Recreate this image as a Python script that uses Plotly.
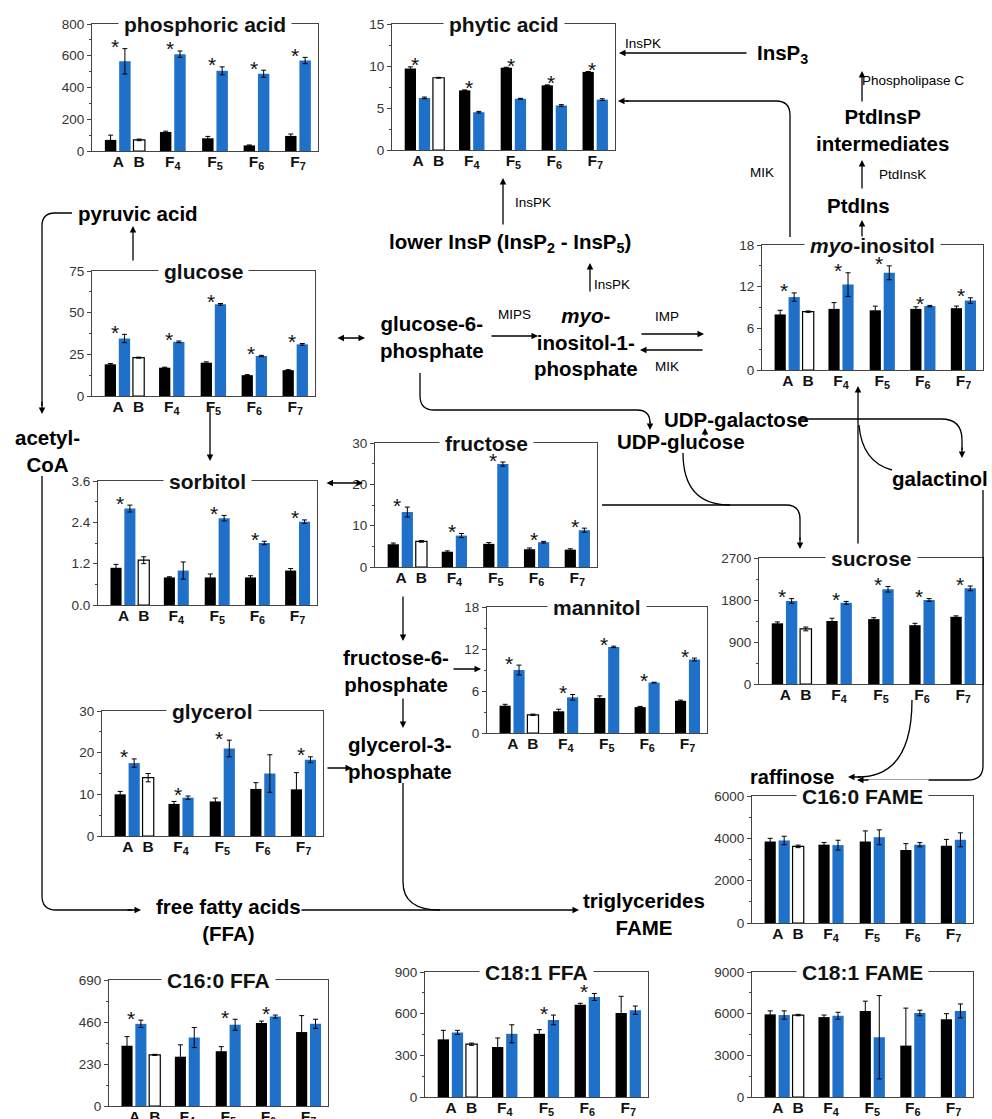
import plotly.graph_objects as go

# ---------------- data ----------------
categories = ['A', 'B', 'F<sub>4</sub>', 'F<sub>5</sub>', 'F<sub>6</sub>', 'F<sub>7</sub>']

phos_black = [70, 120, 80, 35, 95]
phos_black_err = [30, 5, 12, 3, 12]
phos_blue = [565, 610, 505, 487, 570]
phos_blue_err = [80, 20, 25, 22, 20]
phos_white = [70]
phos_white_err = [5]
phos_stars = [0, 1, 2, 3, 4]

phyt_black = [9.7, 7.1, 9.8, 7.7, 9.3]
phyt_black_err = [0.2, 0.05, 0.05, 0.05, 0.05]
phyt_blue = [6.2, 4.5, 6.1, 5.3, 6.0]
phyt_blue_err = [0.1, 0.1, 0.05, 0.1, 0.1]
phyt_white = [8.6]
phyt_white_err = [0.05]
phyt_stars = [0, 1, 2, 3, 4]

gluc_black = [19, 17, 20, 12.5, 15.5]
gluc_black_err = [0.5, 0.3, 0.5, 0.3, 0.3]
gluc_blue = [34.5, 32.5, 55, 24, 31]
gluc_blue_err = [2.5, 0.5, 0.5, 0.4, 0.5]
gluc_white = [23]
gluc_white_err = [0.3]
gluc_stars = [0, 1, 2, 3, 4]

myo_black = [8.0, 8.8, 8.6, 8.8, 8.9]
myo_black_err = [0.6, 0.9, 0.6, 0.3, 0.3]
myo_blue = [10.5, 12.3, 14.0, 9.2, 10.0]
myo_blue_err = [0.6, 1.7, 1.0, 0.1, 0.4]
myo_white = [8.4]
myo_white_err = [0.1]
myo_stars = [0, 1, 2, 3, 4]

sorb_black = [1.08, 0.8, 0.8, 0.8, 1.0]
sorb_black_err = [0.1, 0.02, 0.1, 0.05, 0.06]
sorb_blue = [2.8, 1.0, 2.52, 1.8, 2.42]
sorb_blue_err = [0.1, 0.25, 0.08, 0.05, 0.05]
sorb_white = [1.3]
sorb_white_err = [0.1]
sorb_stars = [0, 2, 3, 4]

fruc_black = [5.5, 3.7, 5.6, 4.3, 4.2]
fruc_black_err = [0.3, 0.2, 0.3, 0.3, 0.2]
fruc_blue = [13.3, 7.6, 24.9, 6.0, 8.9]
fruc_blue_err = [1.2, 0.5, 0.5, 0.2, 0.5]
fruc_white = [6.2]
fruc_white_err = [0.2]
fruc_stars = [0, 1, 2, 3, 4]

mann_black = [3.9, 3.1, 5.0, 3.7, 4.6]
mann_black_err = [0.2, 0.3, 0.3, 0.1, 0.1]
mann_blue = [9.0, 5.1, 12.3, 7.2, 10.5]
mann_blue_err = [0.7, 0.4, 0.1, 0.05, 0.2]
mann_white = [2.6]
mann_white_err = [0.1]
mann_stars = [0, 1, 2, 3, 4]

sucr_black = [1300, 1350, 1390, 1260, 1440]
sucr_black_err = [30, 60, 30, 40, 20]
sucr_blue = [1780, 1740, 2030, 1800, 2050]
sucr_blue_err = [50, 30, 60, 30, 50]
sucr_white = [1180]
sucr_white_err = [40]
sucr_stars = [0, 1, 2, 3, 4]

glyc_black = [10, 7.7, 8.3, 11.3, 11.2]
glyc_black_err = [0.7, 0.6, 0.8, 1.5, 4.0]
glyc_blue = [17.5, 9.2, 21, 15, 18.3]
glyc_blue_err = [1.0, 0.4, 2.0, 4.5, 0.7]
glyc_white = [14]
glyc_white_err = [1.0]
glyc_stars = [0, 1, 2, 4]

c160fame_black = [3850, 3700, 3850, 3450, 3650]
c160fame_black_err = [150, 100, 500, 300, 300]
c160fame_blue = [3900, 3680, 4050, 3700, 3930]
c160fame_blue_err = [200, 230, 350, 100, 330]
c160fame_white = [3620]
c160fame_white_err = [60]
c160fame_stars = []

c160ffa_black = [330, 270, 300, 455, 405]
c160ffa_black_err = [50, 65, 25, 10, 90]
c160ffa_blue = [450, 375, 445, 490, 450]
c160ffa_blue_err = [20, 55, 30, 8, 25]
c160ffa_white = [280]
c160ffa_white_err = [3]
c160ffa_stars = [0, 2, 3]

c181ffa_black = [415, 360, 455, 665, 605]
c181ffa_black_err = [65, 65, 30, 10, 120]
c181ffa_blue = [465, 455, 555, 720, 625]
c181ffa_blue_err = [15, 65, 35, 25, 30]
c181ffa_white = [380]
c181ffa_white_err = [8]
c181ffa_stars = [2, 3]

c181fame_black = [5950, 5750, 6200, 3700, 5600]
c181fame_black_err = [250, 150, 700, 2700, 400]
c181fame_blue = [5900, 5850, 4300, 6050, 6200]
c181fame_blue_err = [300, 250, 3000, 200, 500]
c181fame_white = [5900]
c181fame_white_err = [50]
c181fame_stars = []

# ---------------- geometry / style ----------------
W, H = 992, 1119
FONT = 'Liberation Sans, Arial, sans-serif'
BLUE = '#1e70c8'
AXC = '#444444'

black_x = [0, 3.85, 6.8, 9.7, 12.6]
blue_x = [v + 1 for v in black_x]
white_x = [2]
tick_x = [0.55, 2, 4.35, 7.3, 10.2, 13.1]
XR = [-1.3, 14.5]


def fx(x):
    return x / W


def fy(y):
    return 1 - y / H


charts = [
    dict(title='phosphoric acid', box=(92, 24, 318, 151), ymax=800, dtick=200, fmt='',
         d=(phos_black, phos_black_err, phos_blue, phos_blue_err, phos_white, phos_white_err, phos_stars)),
    dict(title='phytic acid', box=(392, 24, 615, 150), ymax=15, dtick=5, fmt='',
         d=(phyt_black, phyt_black_err, phyt_blue, phyt_blue_err, phyt_white, phyt_white_err, phyt_stars)),
    dict(title='glucose', box=(92, 271, 315, 396), ymax=75, dtick=25, fmt='',
         d=(gluc_black, gluc_black_err, gluc_blue, gluc_blue_err, gluc_white, gluc_white_err, gluc_stars)),
    dict(title='<i>myo</i>-inositol', box=(762, 245, 983, 370), ymax=18, dtick=6, fmt='',
         d=(myo_black, myo_black_err, myo_blue, myo_blue_err, myo_white, myo_white_err, myo_stars)),
    dict(title='sorbitol', box=(98, 481, 317, 605), ymax=3.6, dtick=1.2, fmt='.1f',
         d=(sorb_black, sorb_black_err, sorb_blue, sorb_blue_err, sorb_white, sorb_white_err, sorb_stars)),
    dict(title='fructose', box=(375, 443, 597, 567), ymax=30, dtick=10, fmt='',
         d=(fruc_black, fruc_black_err, fruc_blue, fruc_blue_err, fruc_white, fruc_white_err, fruc_stars)),
    dict(title='mannitol', box=(487, 607, 707, 733), ymax=18, dtick=6, fmt='',
         d=(mann_black, mann_black_err, mann_blue, mann_blue_err, mann_white, mann_white_err, mann_stars)),
    dict(title='sucrose', box=(759, 558, 983, 684), ymax=2700, dtick=900, fmt='',
         d=(sucr_black, sucr_black_err, sucr_blue, sucr_blue_err, sucr_white, sucr_white_err, sucr_stars)),
    dict(title='glycerol', box=(102, 711, 323, 836), ymax=30, dtick=10, fmt='',
         d=(glyc_black, glyc_black_err, glyc_blue, glyc_blue_err, glyc_white, glyc_white_err, glyc_stars)),
    dict(title='C16:0 FAME', box=(752, 796, 973, 923), ymax=6000, dtick=2000, fmt='',
         d=(c160fame_black, c160fame_black_err, c160fame_blue, c160fame_blue_err, c160fame_white, c160fame_white_err, c160fame_stars)),
    dict(title='C16:0 FFA', box=(109, 980, 328, 1106), ymax=690, dtick=230, fmt='',
         d=(c160ffa_black, c160ffa_black_err, c160ffa_blue, c160ffa_blue_err, c160ffa_white, c160ffa_white_err, c160ffa_stars)),
    dict(title='C18:1 FFA', box=(425, 972, 648, 1097), ymax=900, dtick=300, fmt='',
         d=(c181ffa_black, c181ffa_black_err, c181ffa_blue, c181ffa_blue_err, c181ffa_white, c181ffa_white_err, c181ffa_stars)),
    dict(title='C18:1 FAME', box=(752, 972, 973, 1097), ymax=9000, dtick=3000, fmt='',
         d=(c181fame_black, c181fame_black_err, c181fame_blue, c181fame_blue_err, c181fame_white, c181fame_white_err, c181fame_stars)),
]

fig = go.Figure()
annotations = []
shapes = []
layout = {}


def err(arr):
    return dict(type='data', array=arr, color='black', thickness=1, width=2.5, visible=True)


for i, c in enumerate(charts, start=1):
    xa = 'x' if i == 1 else f'x{i}'
    ya = 'y' if i == 1 else f'y{i}'
    bk, bke, bl, ble, wh, whe, stars = c['d']
    fig.add_trace(go.Bar(x=black_x, y=bk, error_y=err(bke), width=0.8, marker=dict(color='black', line=dict(width=0)),
                         xaxis=xa, yaxis=ya, showlegend=False))
    fig.add_trace(go.Bar(x=blue_x, y=bl, error_y=err(ble), width=0.8, marker=dict(color=BLUE, line=dict(width=0)),
                         xaxis=xa, yaxis=ya, showlegend=False))
    fig.add_trace(go.Bar(x=white_x, y=wh, error_y=err(whe), width=0.8,
                         marker=dict(color='white', line=dict(color='black', width=1.2)),
                         xaxis=xa, yaxis=ya, showlegend=False))
    x0, y0, x1, y1 = c['box']
    key = '' if i == 1 else str(i)
    layout['xaxis' + key] = dict(domain=[fx(x0), fx(x1)], anchor=ya, range=XR, showline=True, mirror=True,
                                 linecolor=AXC, linewidth=1, ticks='', showgrid=False, zeroline=False,
                                 automargin=False, ticklabelstandoff=-4,
                                 tickvals=tick_x, ticktext=['<b>%s</b>' % t for t in categories],
                                 tickfont=dict(family=FONT, size=15.5, color='#111'), fixedrange=True)
    layout['yaxis' + key] = dict(domain=[fy(y1), fy(y0)], anchor=xa, range=[0, c['ymax']], dtick=c['dtick'],
                                 tick0=0, tickformat=c['fmt'], showline=True, mirror=True, linecolor=AXC,
                                 linewidth=1, ticks='outside', ticklen=4, tickcolor=AXC, showgrid=False,
                                 zeroline=False, automargin=False,
                                 tickfont=dict(family=FONT, size=13.5, color='#333'),
                                 minor=dict(ticks='outside', ticklen=2, tickcolor=AXC, dtick=c['dtick'] / 2),
                                 fixedrange=True)
    # panel title sitting on the top frame line
    annotations.append(dict(x=fx((x0 + x1) / 2), y=fy(y0), xref='paper', yref='paper', text='<b>%s</b>' % c['title'],
                            showarrow=False, xanchor='center', yanchor='middle', bgcolor='white', borderpad=5,
                            font=dict(family=FONT, size=21, color='#111')))
    # significance asterisks
    for s in stars:
        top = max(bk[s] + bke[s], bl[s] + ble[s])
        annotations.append(dict(x=black_x[s] + 0.3, y=top, xref=xa, yref=ya, text='*', showarrow=False,
                                xanchor='center', yanchor='middle', yshift=2,
                                font=dict(family=FONT, size=21, color='#111')))


# ---------------- pathway diagram ----------------
def label(text, x, y, size=20.5, bold=True):
    annotations.append(dict(x=fx(x), y=fy(y), xref='paper', yref='paper',
                            text=('<b>%s</b>' % text) if bold else text, showarrow=False,
                            xanchor='center', yanchor='middle', align='center',
                            font=dict(family=FONT, size=size, color='black')))


def arrow(xa0, ya0, xa1, ya1, both=False):
    annotations.append(dict(x=fx(xa1), y=fy(ya1), xref='paper', yref='paper', ax=xa0 - xa1, ay=ya0 - ya1,
                            axref='pixel', ayref='pixel', showarrow=True, text='', arrowhead=2, arrowsize=1,
                            arrowwidth=1.3, arrowcolor='black', arrowside='end+start' if both else 'end',
                            startarrowhead=2, startarrowsize=1))


def path(*cmds):
    parts = []
    for cmd in cmds:
        op, nums = cmd[0], cmd[1:]
        pts = ['%.5f,%.5f' % (fx(nums[k]), fy(nums[k + 1])) for k in range(0, len(nums), 2)]
        parts.append(op + ' ' + ' '.join(pts))
    shapes.append(dict(type='path', xref='paper', yref='paper', path=' '.join(parts),
                       line=dict(color='black', width=1.3), fillcolor='rgba(0,0,0,0)', layer='above'))


SMALL = 13.5
# big labels
label('pyruvic acid', 138, 213)
label('acetyl-<br>CoA', 47, 451)
label('glucose-6-<br>phosphate', 432, 337)
label('<i>myo</i>-<br>inositol-1-<br>phosphate', 586, 342)
label('lower InsP (InsP<sub>2</sub> - InsP<sub>5</sub>)', 510, 243)
label('InsP<sub>3</sub>', 782, 54)
label('PtdInsP<br>intermediates', 882, 130)
label('PtdIns', 858, 205)
label('UDP-galactose', 736, 419)
label('UDP-glucose', 681, 441)
label('galactinol', 940, 478)
label('fructose-6-<br>phosphate', 396, 671)
label('glycerol-3-<br>phosphate', 400, 758)
label('raffinose', 792, 777, size=20)
label('free fatty acids<br>(FFA)', 228, 920)
label('triglycerides<br>FAME', 644, 914)

# enzyme labels
label('InsPK', 643, 44, size=SMALL, bold=False)
label('Phospholipase C', 913, 80, size=SMALL, bold=False)
label('PtdInsK', 902, 174, size=SMALL, bold=False)
label('MIK', 762, 172, size=SMALL, bold=False)
label('InsPK', 533, 203, size=SMALL, bold=False)
label('InsPK', 612, 284, size=SMALL, bold=False)
label('MIPS', 514, 314, size=SMALL, bold=False)
label('IMP', 667, 316, size=SMALL, bold=False)
label('MIK', 667, 367, size=SMALL, bold=False)

# straight arrows
arrow(748, 53, 619, 53)
arrow(862, 103, 862, 71)
arrow(862, 190, 862, 160)
arrow(862, 238, 862, 220)
arrow(503, 226, 503, 178)
arrow(590, 293, 590, 263)
arrow(133, 262, 133, 226)
arrow(336, 338, 365, 338, both=True)
arrow(490, 336, 538, 336)
arrow(640, 334, 704, 334)
arrow(704, 350, 640, 350)
arrow(210, 405, 210, 461)
arrow(325, 483, 363, 483, both=True)
arrow(403, 595, 403, 641)
arrow(452, 669, 481, 669)
arrow(403, 697, 403, 728)
arrow(326, 768, 352, 768)
arrow(300, 910, 579, 910)
arrow(705, 437, 705, 428)
arrow(858, 545, 858, 386)

# curved connectors
path(('M', 72, 213), ('L', 55, 213), ('Q', 42, 213, 42, 226), ('L', 42, 406))
arrow(42, 400, 42, 414)
path(('M', 42, 476), ('L', 42, 896), ('Q', 42, 910, 56, 910), ('L', 132, 910))
arrow(126, 910, 141, 910)
path(('M', 420, 373), ('L', 420, 396), ('Q', 420, 410, 434, 410), ('L', 637, 410), ('Q', 650, 410, 650, 423))
arrow(650, 420, 650, 430)
path(('M', 602, 505), ('L', 786, 505), ('Q', 800, 505, 800, 519), ('L', 800, 540))
arrow(800, 536, 800, 549)
path(('M', 683, 453), ('Q', 683, 505, 730, 505))
path(('M', 403, 783), ('L', 403, 882), ('Q', 403, 910, 440, 910))
path(('M', 790, 237), ('L', 790, 115), ('Q', 790, 101, 776, 101), ('L', 626, 101))
arrow(630, 101, 618, 101)
path(('M', 798, 419), ('L', 941, 419), ('Q', 962, 419, 962, 440), ('L', 962, 450))
arrow(962, 446, 962, 458)
path(('M', 892, 470), ('Q', 862, 462, 859, 425))
path(('M', 983, 490), ('L', 983, 766), ('Q', 983, 780, 968, 780), ('L', 866, 780))
arrow(870, 780, 857, 780)
path(('M', 912, 700), ('Q', 912, 777, 858, 777))
arrow(862, 777, 848, 777)

layout.update(dict(width=W, height=H, margin=dict(l=0, r=0, t=0, b=0, pad=0, autoexpand=False),
                   paper_bgcolor='white', plot_bgcolor='white', barmode='overlay', showlegend=False,
                   annotations=annotations, shapes=shapes, font=dict(family=FONT)))
fig.update_layout(**layout)
fig.write_html("out.html", config={'displayModeBar': False},
               post_script="document.documentElement.style.margin='0';document.body.style.margin='0';"
                           "document.documentElement.style.overflow='hidden';document.body.style.overflow='hidden';")
